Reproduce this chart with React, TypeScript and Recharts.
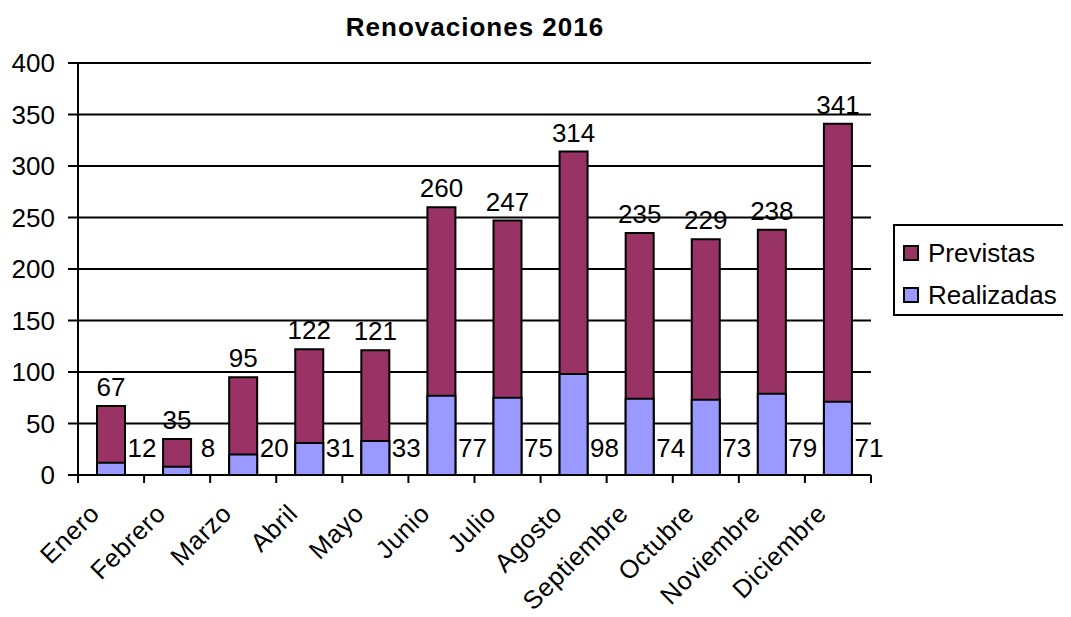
import { BarChart, Bar, XAxis, YAxis, CartesianGrid, LabelList } from 'recharts'

const months = [
  'Enero', 'Febrero', 'Marzo', 'Abril', 'Mayo', 'Junio',
  'Julio', 'Agosto', 'Septiembre', 'Octubre', 'Noviembre', 'Diciembre',
]
const previstas = [67, 35, 95, 122, 121, 260, 247, 314, 235, 229, 238, 341]
const realizadas = [12, 8, 20, 31, 33, 77, 75, 98, 74, 73, 79, 71]
const yTicks = [0, 50, 100, 150, 200, 250, 300, 350, 400]

const data = months.map((mes, i) => ({ mes, previstas: previstas[i], realizadas: realizadas[i] }))

const FONT = '"Liberation Sans", Arial, sans-serif'
const FS = 26
const W = 1063
const H = 609
const MARGIN = { top: 55, right: 200, left: 0, bottom: 0 }
const Y_W = 70
const CAT_W = (W - MARGIN.left - MARGIN.right - Y_W) / months.length

const COLOR_PREV = '#993366'
const COLOR_REAL = '#9999FF'

// tick del eje X: marca en el borde de la categoria + etiqueta girada
const MonthTick = (props: any) => {
  const { x, y, payload, index } = props
  const half = CAT_W / 2
  return (
    <g>
      <line x1={x - half} y1={y} x2={x - half} y2={y + 8} stroke="#000" strokeWidth={2} />
      {index === months.length - 1 && (
        <line x1={x + half} y1={y} x2={x + half} y2={y + 8} stroke="#000" strokeWidth={2} />
      )}
      <text
        transform={`translate(${x - 10},${y + 40}) rotate(-45)`}
        textAnchor="end"
        fontSize={25.5}
        letterSpacing={0.6}
        fontFamily={FONT}
        fill="#000"
      >
        {payload.value}
      </text>
    </g>
  )
}

// etiqueta de realizadas: a la derecha de la barra, cerca del eje
const RealLabel = (props: any) => {
  const { x, y, width, height, value } = props
  return (
    <text
      x={x + width / 2 + 31}
      y={y + height - 18}
      textAnchor="middle"
      fontSize={FS}
      fontFamily={FONT}
      fill="#000"
    >
      {value}
    </text>
  )
}

const LegendBox = () => (
  <div
    style={{
      position: 'absolute',
      left: 885,
      top: 216,
      width: 174,
      height: 88,
      border: '2px solid #000',
      background: '#fff',
      fontFamily: FONT,
      fontSize: FS,
      color: '#000',
    }}
  >
    {[
      { name: 'Previstas', color: COLOR_PREV },
      { name: 'Realizadas', color: COLOR_REAL },
    ].map((it, i) => (
      <div key={it.name} style={{ position: 'absolute', left: 8, top: 12 + i * 42, display: 'flex', alignItems: 'center', lineHeight: '30px', whiteSpace: 'nowrap' }}>
        <span style={{ width: 12, height: 12, border: '2px solid #000', background: it.color, display: 'inline-block', marginRight: 9 }} />
        <span>{it.name}</span>
      </div>
    ))}
  </div>
)

export default function App() {
  return (
    <div style={{ position: 'relative', width: W, height: H, background: '#fff' }}>
      <div
        style={{
          position: 'absolute',
          top: 4,
          left: 0,
          width: 2 * 467,
          textAlign: 'center',
          fontFamily: FONT,
          fontWeight: 'bold',
          fontSize: 26,
          letterSpacing: 1,
          lineHeight: '30px',
          color: '#000',
        }}
      >
        Renovaciones 2016
      </div>
      <BarChart width={W} height={H} data={data} margin={MARGIN} barSize={28} barGap={-28}>
        <CartesianGrid vertical={false} stroke="#000" strokeWidth={2} />
        <XAxis
          dataKey="mes"
          height={142}
          interval={0}
          tickSize={0}
          tickMargin={0}
          tickLine={false}
          axisLine={{ stroke: '#000', strokeWidth: 2 }}
          tick={<MonthTick />}
        />
        <YAxis
          width={Y_W}
          domain={[0, 400]}
          ticks={yTicks}
          interval={0}
          tickSize={10}
          tickMargin={13}
          axisLine={{ stroke: '#000', strokeWidth: 2 }}
          tickLine={{ stroke: '#000', strokeWidth: 2 }}
          tick={{ fontSize: FS, fill: '#000', fontFamily: FONT }}
        />
        <Bar dataKey="previstas" name="Previstas" fill={COLOR_PREV} stroke="#000" strokeWidth={2} isAnimationActive={false}>
          <LabelList dataKey="previstas" position="top" offset={10} fontSize={FS} fontFamily={FONT} fill="#000" />
        </Bar>
        <Bar dataKey="realizadas" name="Realizadas" fill={COLOR_REAL} stroke="#000" strokeWidth={2} isAnimationActive={false}>
          <LabelList dataKey="realizadas" content={<RealLabel />} />
        </Bar>
      </BarChart>
      <LegendBox />
    </div>
  )
}
